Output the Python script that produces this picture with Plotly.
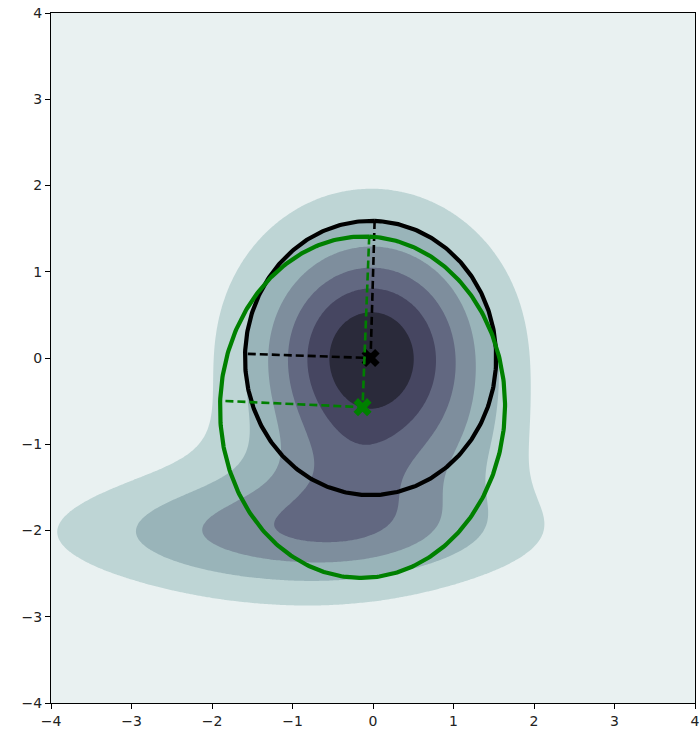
import numpy as np
import plotly.graph_objects as go

# Gaussian bumps that build the density surface (amplitudes in units of one contour step)
bump_cx = [-0.02, -1.00, -1.00, -0.25, 1.35]
bump_cy = [0.02, -2.03, -1.94, -1.45, -1.15]
bump_sx = [0.99, 2.10, 1.60, 0.60, 0.60]
bump_sy = [0.99, 0.40, 0.70, 0.45, 0.60]
bump_amp = [6.85, 1.75, 1.79, 0.50, 0.45]

# contour levels: evenly spaced, one unit apart
level_start, level_end, level_step = 1, 6, 1
n_level_bins = 8  # bins the colormap is split into (top bin never reached)

# fitted ellipses: centre, semi-axes (along the tilted vertical / horizontal), tilt in degrees
ell_names = ["robust", "empirical"]
ell_cx = [-0.03, -0.13]
ell_cy = [0.0, -0.57]
ell_a = [1.59, 1.98]
ell_b = [1.56, 1.77]
ell_tilt = [1.8, 2.4]
ell_color = ["black", "green"]

tick_vals = [-4, -3, -2, -1, 0, 1, 2, 3, 4]


def bone(x):
    if x <= 0.365079:
        r = g = 0.875 * x
        b = 1.2174 * x
    elif x <= 0.746032:
        r = 0.875 * x
        g = 0.319444 + 1.2031 * (x - 0.365079)
        b = 0.444444 + 0.875 * (x - 0.365079)
    else:
        r = 0.652778 + 1.3672 * (x - 0.746032)
        g = 0.777778 + 0.875 * (x - 0.746032)
        b = 0.444444 + 0.875 * (x - 0.365079)
    return "rgb(%d,%d,%d)" % (round(r * 255), round(g * 255), round(b * 255))


gx = np.linspace(-4, 4, 321)
gy = np.linspace(-4, 4, 321)
X, Y = np.meshgrid(gx, gy)
Z = np.zeros_like(X)
for cx, cy, sx, sy, a in zip(bump_cx, bump_cy, bump_sx, bump_sy, bump_amp):
    Z += a * np.exp(-0.5 * (((X - cx) / sx) ** 2 + ((Y - cy) / sy) ** 2))

# reversed bone colours at the centre of each level bin
n_bands = int(round((level_end - level_start) / level_step)) + 2
colorscale = [[k / (n_bands - 1), bone(1 - (k + 0.5) / n_level_bins)] for k in range(n_bands)]

fig = go.Figure()
fig.add_trace(go.Contour(
    x=gx, y=gy, z=Z,
    autocontour=False,
    contours=dict(start=level_start, end=level_end, size=level_step, coloring="fill"),
    colorscale=colorscale,
    line=dict(width=0),
    showscale=False,
    hoverinfo="skip",
))

t = np.linspace(0, 2 * np.pi, 400)
for name, cx, cy, a, b, tilt, col in zip(ell_names, ell_cx, ell_cy, ell_a, ell_b, ell_tilt, ell_color):
    th = np.deg2rad(tilt)
    u = np.array([np.sin(th), np.cos(th)])      # tilted vertical axis
    v = np.array([-np.cos(th), np.sin(th)])     # tilted horizontal axis (pointing left)
    ex = cx + a * np.cos(t) * u[0] + b * np.sin(t) * v[0]
    ey = cy + a * np.cos(t) * u[1] + b * np.sin(t) * v[1]
    fig.add_trace(go.Scatter(x=ex, y=ey, mode="lines", line=dict(color=col, width=4.2),
                             name=name, showlegend=False, hoverinfo="skip"))
    fig.add_trace(go.Scatter(x=[cx + a * u[0], cx, cx + b * v[0]],
                             y=[cy + a * u[1], cy, cy + b * v[1]],
                             mode="lines", line=dict(color=col, width=2.6, dash="8px,4px"),
                             showlegend=False, hoverinfo="skip"))
    fig.add_trace(go.Scatter(x=[cx], y=[cy], mode="markers",
                             marker=dict(symbol="x", size=16, color=col, line=dict(width=0)),
                             showlegend=False, hoverinfo="skip"))

axis_common = dict(
    range=[-4, 4], tickvals=tick_vals, ticks="outside", ticklen=5, tickwidth=1,
    tickcolor="black", showline=True, linecolor="black", linewidth=1, mirror=True,
    showgrid=False, zeroline=False, ticklabeloverflow="allow",
    tickfont=dict(family="DejaVu Sans", size=14, color="#222"),
)

fig.update_layout(
    width=700, height=732,
    margin=dict(l=51, r=0, t=13, b=29),
    paper_bgcolor="white", plot_bgcolor="white",
    xaxis=axis_common, yaxis=axis_common,
    showlegend=False,
)

fig.write_html("out.html")
